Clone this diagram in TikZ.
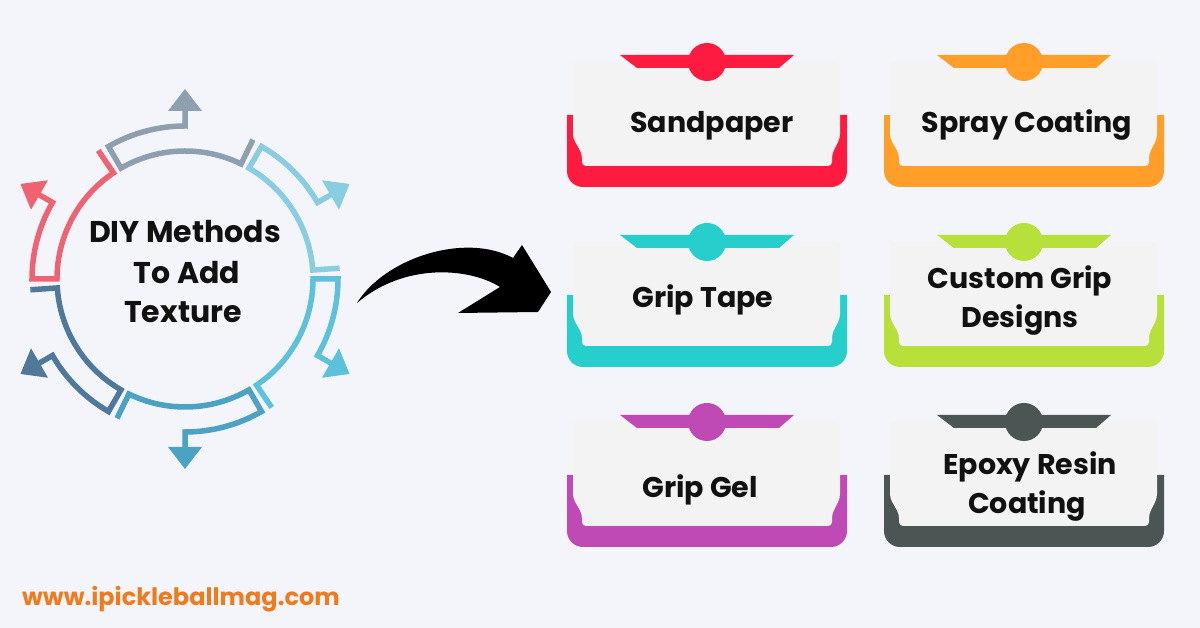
\documentclass[tikz,border=0pt]{standalone}
\usepackage{fontspec}
\setmainfont{Poppins}
\usetikzlibrary{calc}
\definecolor{bg}{HTML}{F4F5FB}
\definecolor{cardgray}{HTML}{F3F3F4}
\definecolor{txt}{HTML}{111111}
\definecolor{cred}{HTML}{FF1A40}
\definecolor{corange}{HTML}{FF9F2A}
\definecolor{cteal}{HTML}{26CFCB}
\definecolor{clime}{HTML}{B8E03A}
\definecolor{cmag}{HTML}{C04AB5}
\definecolor{cdark}{HTML}{4B5654}
\definecolor{rred}{HTML}{EE6272}
\definecolor{rgray}{HTML}{8E9FB0}
\definecolor{rlba}{HTML}{88CDE0}
\definecolor{rlbb}{HTML}{5CC2DB}
\definecolor{rblue}{HTML}{4BA2C2}
\definecolor{rdark}{HTML}{50789A}
\definecolor{web}{HTML}{F07B1E}
\tikzset{
  cardtxt/.style={font=\fontsize{28.5}{28.5}\selectfont\bfseries, anchor=base, text=txt, inner sep=0pt},
  titletxt/.style={font=\fontsize{30}{30}\selectfont\bfseries, anchor=base, text=txt, inner sep=0pt},
  ringline/.style={line width=5.5pt},
}
\newcommand\mycard[3]{%
\begin{scope}[shift={(#1,628-#2)}]
  \fill[#3] (0,-53) -- (0,-109) arc[start angle=180, end angle=270, radius=16]
     -- (264,-125) arc[start angle=270, end angle=360, radius=16] -- (280,-53) -- cycle;
  \fill[cardgray, rounded corners=4pt] (6,0) -- (273,0) -- (273,-76) -- (265,-92) -- (265,-104)
     -- (15,-104) -- (15,-92) -- (6,-76) -- cycle;
  \fill[#3] (53,7) -- (227,7) -- (212,-6) -- (70,-6) -- cycle;
  \fill[#3] (140,0) circle[radius=19];
\end{scope}}
\begin{document}
\begin{tikzpicture}[x=1pt,y=1pt]
\fill[bg] (0,0) rectangle (1200,628);
\useasboundingbox (0,0) rectangle (1200,628);

% ring
\begin{scope}[shift={(185,349)}]
\foreach \a/\c in {180/rred,120/rgray,60/rlba,0/rlbb,-60/rblue,-120/rdark}{
  \draw[\c, ringline] (\a-56:155) -- (\a-56:128) arc[start angle=\a-56, end angle=\a, radius=128]
     -- (\a:153) arc[start angle=\a, end angle=\a-30, radius=153] -- (\a-30:170);
  \fill[\c, rotate=\a-30] (190,0) -- (168,17) -- (168,-17) -- cycle;
}
\end{scope}
\node[titletxt] (t1) at (185,628-243) {DIY Methods};
\node[titletxt] (t2) at (187,628-284) {To Add};
\node[titletxt] (t3) at (183,628-323) {Texture};

% big arrow
\fill[black] (357,325) .. controls (385,370) and (465,396) .. (513,370)
  -- (522,383) -- (551,336) -- (538,316) -- (458,315) -- (500,341)
  .. controls (470,360) and (405,366) .. (357,325) -- cycle;

% cards
\mycard{567}{62}{cred}
\mycard{884}{62}{corange}
\mycard{567}{242}{cteal}
\mycard{884}{242}{clime}
\mycard{567}{422}{cmag}
\mycard{884}{422}{cdark}

\node[cardtxt] (c1) at (712,628-133) {Sandpaper};
\node[cardtxt] (c2) at (1027,628-133) {Spray Coating};
\node[cardtxt] (c3) at (703,628-308) {Grip Tape};
\node[cardtxt] (c4a) at (1020,628-289) {Custom Grip};
\node[cardtxt] (c4b) at (1020,628-328) {Designs};
\node[cardtxt] (c5) at (700,628-498) {Grip Gel};
\node[cardtxt] (c6a) at (1030,628-475) {Epoxy Resin};
\node[cardtxt] (c6b) at (1027,628-514) {Coating};

\node[font=\fontsize{24}{24}\selectfont\bfseries, text=web, anchor=base west, inner sep=0pt] (w) at (22,628-606) {www.ipickleballmag.com};
\end{tikzpicture}
\end{document}
